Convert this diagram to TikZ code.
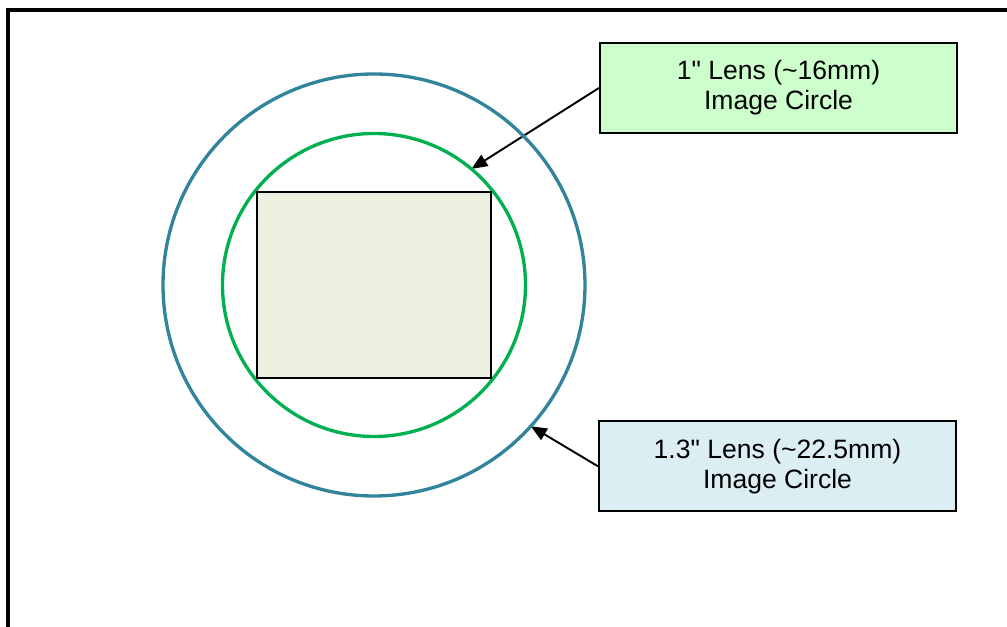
\documentclass[tikz,border=0pt]{standalone}
\usepackage{fontspec}
\setmainfont{Liberation Sans}
\usepackage{xcolor}
\usetikzlibrary{arrows,arrows.meta}
\usetikzlibrary{backgrounds,shapes,positioning,calc}
\pgfdeclarelayer{edgelayer}
\pgfdeclarelayer{nodelayer}
\pgfsetlayers{background,edgelayer,nodelayer,main}
\definecolor{ringblue}{RGB}{49,132,155}
\definecolor{ringgreen}{RGB}{0,176,80}
\definecolor{sensorfill}{RGB}{235,241,222}
\definecolor{boxgreen}{RGB}{204,255,204}
\definecolor{boxblue}{RGB}{219,238,244}
\tikzstyle{none}=[inner sep=0mm]
\tikzstyle{frame}=[line width=1.3pt,draw=black]
\tikzstyle{ring}=[shape=circle,inner sep=0pt,outer sep=0pt,line width=0.95pt]
\tikzstyle{big ring}=[ring,draw=ringblue,minimum size=4.22cm]
\tikzstyle{small ring}=[ring,draw=ringgreen,minimum size=3.03cm]
\tikzstyle{sensor}=[shape=rectangle,draw=black,fill=sensorfill,line width=0.6pt,minimum width=2.335cm,minimum height=1.855cm,inner sep=0pt]
\tikzstyle{lens box}=[shape=rectangle,draw=black,line width=0.6pt,minimum width=3.57cm,minimum height=0.9cm,inner sep=0pt,align=center,font=\fontsize{7.55}{8.6}\selectfont]
\tikzstyle{gbox}=[lens box,fill=boxgreen]
\tikzstyle{bbox}=[lens box,fill=boxblue]
\tikzstyle{pointer}=[-{Triangle[length=0.16cm,width=0.13cm]},line width=0.55pt]

\begin{document}
\begin{tikzpicture}
	\clip (0, 0) rectangle (10.07, 6.27);
	\draw [style=frame] (0.08, -0.3) -- (0.08, 6.17) -- (10.4, 6.17);
	\begin{pgfonlayer}{nodelayer}
		\node [style=big ring] (outer) at (3.74, 3.42) {};
		\node [style=small ring] (inner) at (3.74, 3.42) {};
		\node [style=sensor] (chip) at (3.74, 3.42) {};
		\node [style=gbox] (one) at (7.785, 5.39) {1\textquotedbl{} Lens (\textasciitilde16mm)\\Image Circle};
		\node [style=bbox] (onethree) at (7.775, 1.607) {1.3\textquotedbl{} Lens (\textasciitilde22.5mm)\\Image Circle};
	\end{pgfonlayer}
	\begin{pgfonlayer}{edgelayer}
		\draw [style=pointer] (one.west) to (inner.50.6);
		\draw [style=pointer] (onethree.west) to (outer.-42.7);
	\end{pgfonlayer}
\end{tikzpicture}
\end{document}
